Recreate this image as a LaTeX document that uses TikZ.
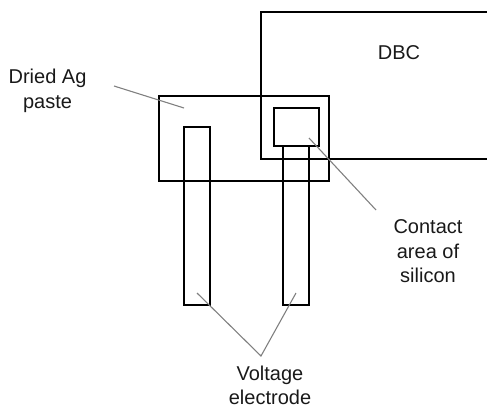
\documentclass[tikz,border=0pt]{standalone}
\usepackage{fontspec}
\setmainfont{Liberation Sans}
\tikzset{
  boxline/.style={draw=black,line width=2pt,fill=none},
  leader/.style={draw=black!50,line width=1.1pt},
  lbl/.style={font=\fontsize{20pt}{24.5pt}\selectfont,align=center,inner sep=0pt,text=black!90}
}
\begin{document}
\begin{tikzpicture}[x=1pt,y=-1pt]
\useasboundingbox (0,0) rectangle (487,407);
\node[lbl] (dbc) at (399,53) {DBC};
\node[lbl] (paste) at (47.5,91) {Dried Ag\\paste};
\node[lbl] (contact) at (428,251.5) {Contact\\area of\\silicon};
\node[lbl] (volt) at (270,385.5) {Voltage\\electrode};
\draw[boxline] (487,12) -- (261,12) -- (261,158.5) -- (487,158.5);
\draw[boxline] (159,95.5) rectangle (329,181);
\draw[boxline] (184,127) rectangle (210,305);
\draw[boxline] (283,146) rectangle (309,305);
\draw[boxline] (274,108) rectangle (318.5,146);
\coordinate (p1) at (114,86);
\coordinate (p2) at (184,108);
\coordinate (c1) at (309,138);
\coordinate (c2) at (376,210);
\coordinate (v1) at (197,293);
\coordinate (v2) at (296,293);
\coordinate (v0) at (261,356);
\draw[leader] (p1) -- (p2);
\draw[leader] (c1) -- (c2);
\draw[leader] (v1) -- (v0) -- (v2);
\end{tikzpicture}
\end{document}
